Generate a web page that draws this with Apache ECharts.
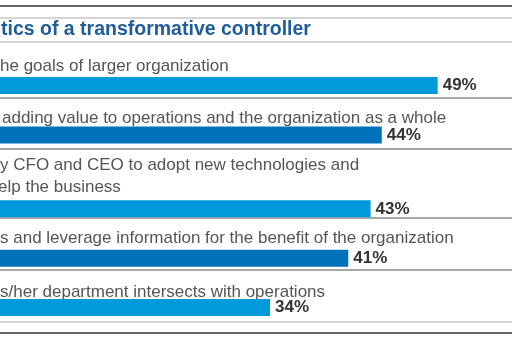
<!DOCTYPE html>
<html>
<head>
<meta charset="utf-8">
<script src="https://cdn.jsdelivr.net/npm/echarts@6/dist/echarts.min.js"></script>
<style>
html,body{margin:0;padding:0;background:#fff;}
#c{width:512px;height:341px;}
</style>
</head>
<body>
<div id="c"></div>
<script>
// ---- data ----
const title = "tics of a transformative controller";
const categories = [
  "he goals of larger organization",
  "adding value to operations and the organization as a whole",
  "y CFO and CEO to adopt new technologies and\nelp the business",
  "s and leverage information for the benefit of the organization",
  "s/her department intersects with operations"
];
const values = [49, 44, 43, 41, 34];
const barColors = ["#0099d9", "#0072bb", "#0099d9", "#0072bb", "#0099d9"];

// ---- build slots: one slot per text line + one for the bar ----
const slots = [];
const barData = [];
categories.forEach((c, i) => {
  const lines = c.split("\n");
  lines.forEach(() => { slots.push("t" + slots.length); barData.push("-"); });
  slots.push("b" + i);
  barData.push({ value: values[i], itemStyle: { color: barColors[i] } });
});

// text line layout (pixel y of each text line centre)
const textY = [[66], [118], [165, 187], [238], [292]];
const textX = [[0], [2], [0, -2], [0], [0]];

const graphics = [];
// title
graphics.push({ type: 'text', x: 1, y: 30, style: { text: title, fill: '#1f5c9c', font: 'bold 19.5px "Liberation Sans", Arial, sans-serif', verticalAlign: 'middle' } });
categories.forEach((c, i) => {
  c.split("\n").forEach((ln, j) => {
    graphics.push({ type: 'text', x: textX[i][j], y: textY[i][j], style: { text: ln, fill: '#555', font: '17px "Liberation Sans", Arial, sans-serif', verticalAlign: 'middle', align: 'left' } });
  });
});
// rule lines
const rules = [[6, '#666', 2], [18, '#aaa', 1], [42, '#aaa', 1], [98, '#888', 1.5], [149, '#888', 1.5], [218, '#888', 1.5], [270, '#888', 1.5], [322, '#aaa', 1], [333, '#666', 2]];
rules.forEach(r => {
  graphics.push({ type: 'line', shape: { x1: 0, y1: r[0], x2: 512, y2: r[0] }, style: { stroke: r[1], lineWidth: r[2] } });
});

const chart = echarts.init(document.getElementById('c'));
chart.setOption({
  animation: false,
  backgroundColor: '#fff',
  grid: { left: -110, top: 48.6, width: 558.85, height: 271.2, outerBoundsMode: 'none', containLabel: false },
  xAxis: { type: 'value', min: 0, max: 50, show: false },
  yAxis: { type: 'category', data: slots, inverse: true, show: false },
  series: [{
    type: 'bar',
    data: barData,
    barWidth: 17,
    label: {
      show: true, position: 'right', distance: 5,
      formatter: p => p.value + '%',
      color: '#333', fontWeight: 'bold', fontSize: 17,
      fontFamily: '"Liberation Sans", Arial, sans-serif'
    }
  }],
  graphic: graphics
});
</script>
</body>
</html>
